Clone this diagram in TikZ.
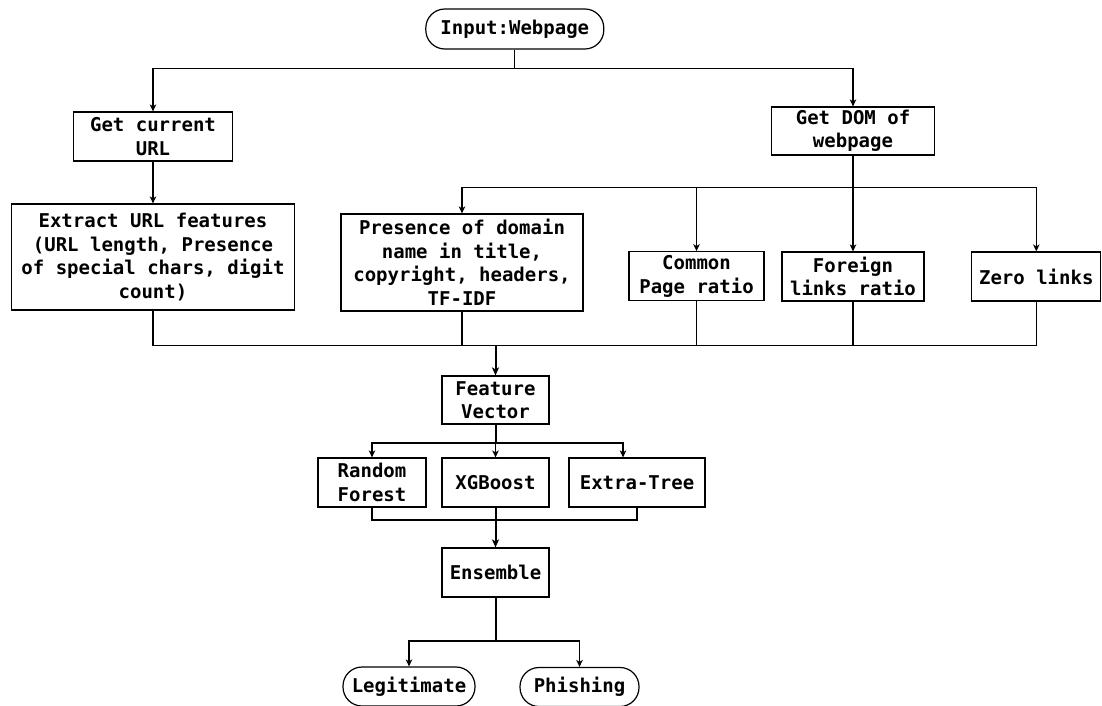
\documentclass[tikz,border=0pt]{standalone}
\usepackage{fontspec}
\setmonofont{DejaVu Sans Mono}
\usetikzlibrary{arrows.meta}
\begin{document}
\begin{tikzpicture}[x=1pt,y=-1pt,
  txt/.style={font=\ttfamily\bfseries\fontsize{19}{23.5}\selectfont, align=center, inner sep=0pt},
  box/.style={txt, draw, line width=1.2pt},
  oval/.style={txt, draw, line width=1.2pt, rounded corners=19pt},
  ln/.style={line width=1.2pt},
  thk/.style={line width=2pt},
  arr/.style={ln, -{Stealth[length=7pt,width=6.5pt,inset=2pt]}},
  tarr/.style={thk, -{Stealth[length=8pt,width=7pt,inset=2pt]}}]
\useasboundingbox (0,0) rectangle (1102,706);

% nodes
\node[oval, minimum width=178pt, minimum height=40pt] (in) at (514.8,29) {Input:Webpage};
\node[box, minimum width=159pt, minimum height=49pt] (url) at (153,136.5) {Get current\\URL};
\node[box, minimum width=163pt, minimum height=48pt] (dom) at (853,131) {Get DOM of\\webpage};
\node[box, minimum width=283pt, minimum height=106pt] (ext) at (153,257) {Extract URL features\\(URL length, Presence\\of special chars, digit\\count)};
\node[box, minimum width=242pt, minimum height=97pt] (pres) at (462,262.5) {Presence of domain\\name in title,\\copyright, headers,\\TF-IDF};
\node[box, minimum width=135pt, minimum height=49pt] (com) at (696.5,276.2) {Common\\Page ratio};
\node[box, minimum width=142pt, minimum height=49pt] (for) at (853,276.5) {Foreign\\links ratio};
\node[box, minimum width=129pt, minimum height=49pt] (zero) at (1036.3,276.5) {Zero links};
\node[box, minimum width=107pt, minimum height=48pt] (fv) at (495.5,400) {Feature\\Vector};
\node[box, minimum width=108pt, minimum height=49pt] (rf) at (372,482.5) {Random\\Forest};
\node[box, minimum width=107pt, minimum height=49pt] (xgb) at (495.5,482.5) {XGBoost};
\node[box, minimum width=136pt, minimum height=49pt] (et) at (637,482.5) {Extra-Tree};
\node[box, minimum width=107pt, minimum height=49pt] (ens) at (495.5,572.5) {Ensemble};
\node[oval, minimum width=132pt, minimum height=39pt] (leg) at (409,686.5) {Legitimate};
\node[oval, minimum width=119pt, minimum height=39pt] (phi) at (579.5,687) {Phishing};

% junction coordinates
\coordinate (j1) at (514.8,68.3);
\coordinate (j2) at (853,187.7);
\coordinate (j3) at (495.5,345.5);
\coordinate (j4) at (495.5,443);
\coordinate (j5) at (495.5,520);
\coordinate (j6) at (495.5,641);

% input -> url / dom
\draw[ln] (in.south) -- (j1);
\draw[arr] (j1) -| (url.north);
\draw[arr] (j1) -| (dom.north);

% url -> ext
\draw[arr] (url.south) -- (ext.north);

% dom -> four
\draw[thk] (dom.south) -- (j2);
\draw[arr] (j2) -| (pres.north);
\draw[arr] (j2) -| (com.north);
\draw[arr] (j2) -- (for.north);
\draw[arr] (j2) -| (zero.north);

% to bus -> feature vector
\draw[ln] (ext.south) |- (j3);
\draw[ln] (pres.south) |- (j3);
\draw[ln] (com.south) |- (j3);
\draw[ln] (for.south) |- (j3);
\draw[ln] (zero.south) |- (j3);
\draw[tarr] (j3) -- (fv.north);

% feature vector -> models
\draw[thk] (fv.south) -- (j4);
\draw[arr] (j4) -| (rf.north);
\draw[arr] (j4) -- (xgb.north);
\draw[arr] (j4) -| ([xshift=-14pt]et.north);

% models -> ensemble
\draw[ln] (rf.south) |- (j5);
\draw[ln] (et.south) |- (j5);
\draw[tarr] (xgb.south) -- (ens.north);

% ensemble -> outputs
\draw[thk] (ens.south) -- (j6);
\draw[arr] (j6) -| (leg.north);
\draw[arr] (j6) -| (phi.north);
\end{tikzpicture}
\end{document}
